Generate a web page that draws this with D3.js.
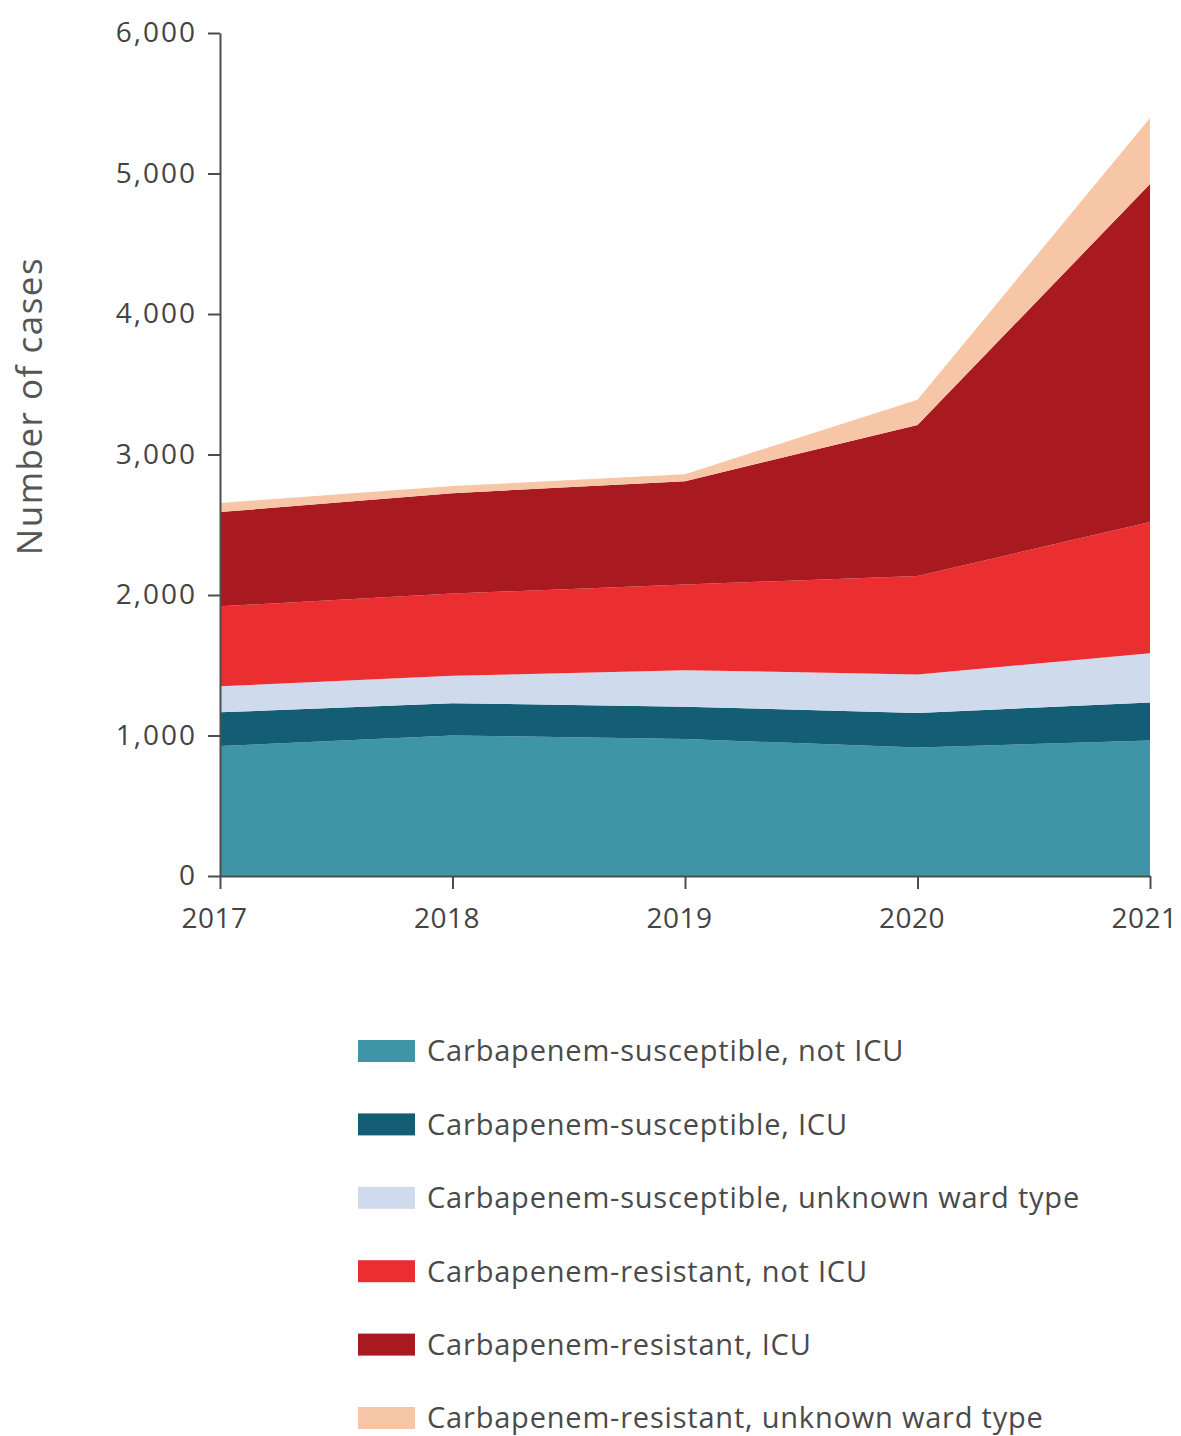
<!DOCTYPE html>
<html>
<head>
<meta charset="utf-8">
<script src="https://cdn.jsdelivr.net/npm/d3@7"></script>
<style>
  body { margin: 0; background: #fff; }
  svg { display: block; font-family: "Open Sans", sans-serif; }
</style>
</head>
<body>
<div id="chart"></div>
<script>
var width = 1181;
var height = 1436;

// values
var years = [2017, 2018, 2019, 2020, 2021];
var seriesNames = [
    "Carbapenem-susceptible, not ICU",
    "Carbapenem-susceptible, ICU",
    "Carbapenem-susceptible, unknown ward type",
    "Carbapenem-resistant, not ICU",
    "Carbapenem-resistant, ICU",
    "Carbapenem-resistant, unknown ward type"
];
var susceptibleNotIcu = [925, 1000, 975, 915, 965];
var susceptibleIcu = [240, 230, 230, 245, 270];
var susceptibleUnknown = [185, 195, 260, 275, 350];
var resistantNotIcu = [570, 585, 610, 700, 935];
var resistantIcu = [670, 715, 735, 1075, 2405];
var resistantUnknown = [65, 50, 50, 180, 470];
var yTicks = [0, 1000, 2000, 3000, 4000, 5000, 6000];

var colors = ["#3d95a5", "#135e75", "#cfdaec", "#eb2e30", "#a91a20", "#f7c6a6"];

var allSeries = [susceptibleNotIcu, susceptibleIcu, susceptibleUnknown,
                 resistantNotIcu, resistantIcu, resistantUnknown];

var table = years.map(function(y, i) {
    var row = { year: y };
    seriesNames.forEach(function(name, k) { row[name] = allSeries[k][i]; });
    return row;
});

var svg = d3.select("#chart")
    .append("svg")
    .attr("width", width)
    .attr("height", height);

var x = d3.scaleLinear()
    .domain([2017, 2021])
    .range([220, 1150]);
var y = d3.scaleLinear()
    .domain([0, 6000])
    .range([876, 33]);

var stacked = d3.stack().keys(seriesNames)(table);

var area = d3.area()
    .x(d => x(d.data.year))
    .y0(d => y(d[0]))
    .y1(d => y(d[1]));

svg.append("g")
    .selectAll("path")
    .data(stacked)
    .enter()
    .append("path")
        .attr("d", area)
        .style("fill", (d, i) => colors[i]);

// axes
var axisColor = "#4d4d4d";

var yAxis = svg.append("g")
    .attr("transform", "translate(220,0)")
    .call(d3.axisLeft(y)
        .tickValues(yTicks)
        .tickSize(12)
        .tickSizeOuter(0)
        .tickPadding(11)
        .tickFormat(d3.format(",")));

var xAxis = svg.append("g")
    .attr("transform", "translate(0,876)")
    .call(d3.axisBottom(x)
        .tickValues(years)
        .tickSize(13)
        .tickSizeOuter(0)
        .tickPadding(19)
        .tickFormat(d3.format("d")));

[yAxis, xAxis].forEach(function(g) {
    g.select(".domain").style("stroke", axisColor).style("stroke-width", 2);
    g.selectAll(".tick line").style("stroke", axisColor).style("stroke-width", 2);
    g.selectAll(".tick text")
        .style("fill", "#444")
        .style("font-family", "'Open Sans', sans-serif")
        .style("font-size", "28px");
});
yAxis.selectAll(".tick text").style("letter-spacing", "2px");
xAxis.selectAll(".tick text")
    .attr("dx", -6)
    .style("letter-spacing", "0.5px");

svg.append("text")
    .attr("transform", "translate(42,406) rotate(-90)")
    .attr("text-anchor", "middle")
    .style("font-size", "35px")
    .style("letter-spacing", "1.5px")
    .style("fill", "#555")
    .text("Number of cases");

// legend
var legend = svg.append("g")
    .selectAll("g")
    .data(seriesNames)
    .enter()
    .append("g")
        .attr("transform", (d, i) => "translate(358," + (1051 + i * 73.4) + ")");

legend.append("rect")
    .attr("x", 0)
    .attr("y", -11)
    .attr("width", 57)
    .attr("height", 22)
    .style("fill", (d, i) => colors[i]);

legend.append("text")
    .attr("x", 69)
    .attr("y", 0)
    .attr("dy", "0.36em")
    .style("font-size", "29px")
    .style("letter-spacing", "0.8px")
    .style("fill", "#4a4a4a")
    .text(d => d);
</script>
</body>
</html>
